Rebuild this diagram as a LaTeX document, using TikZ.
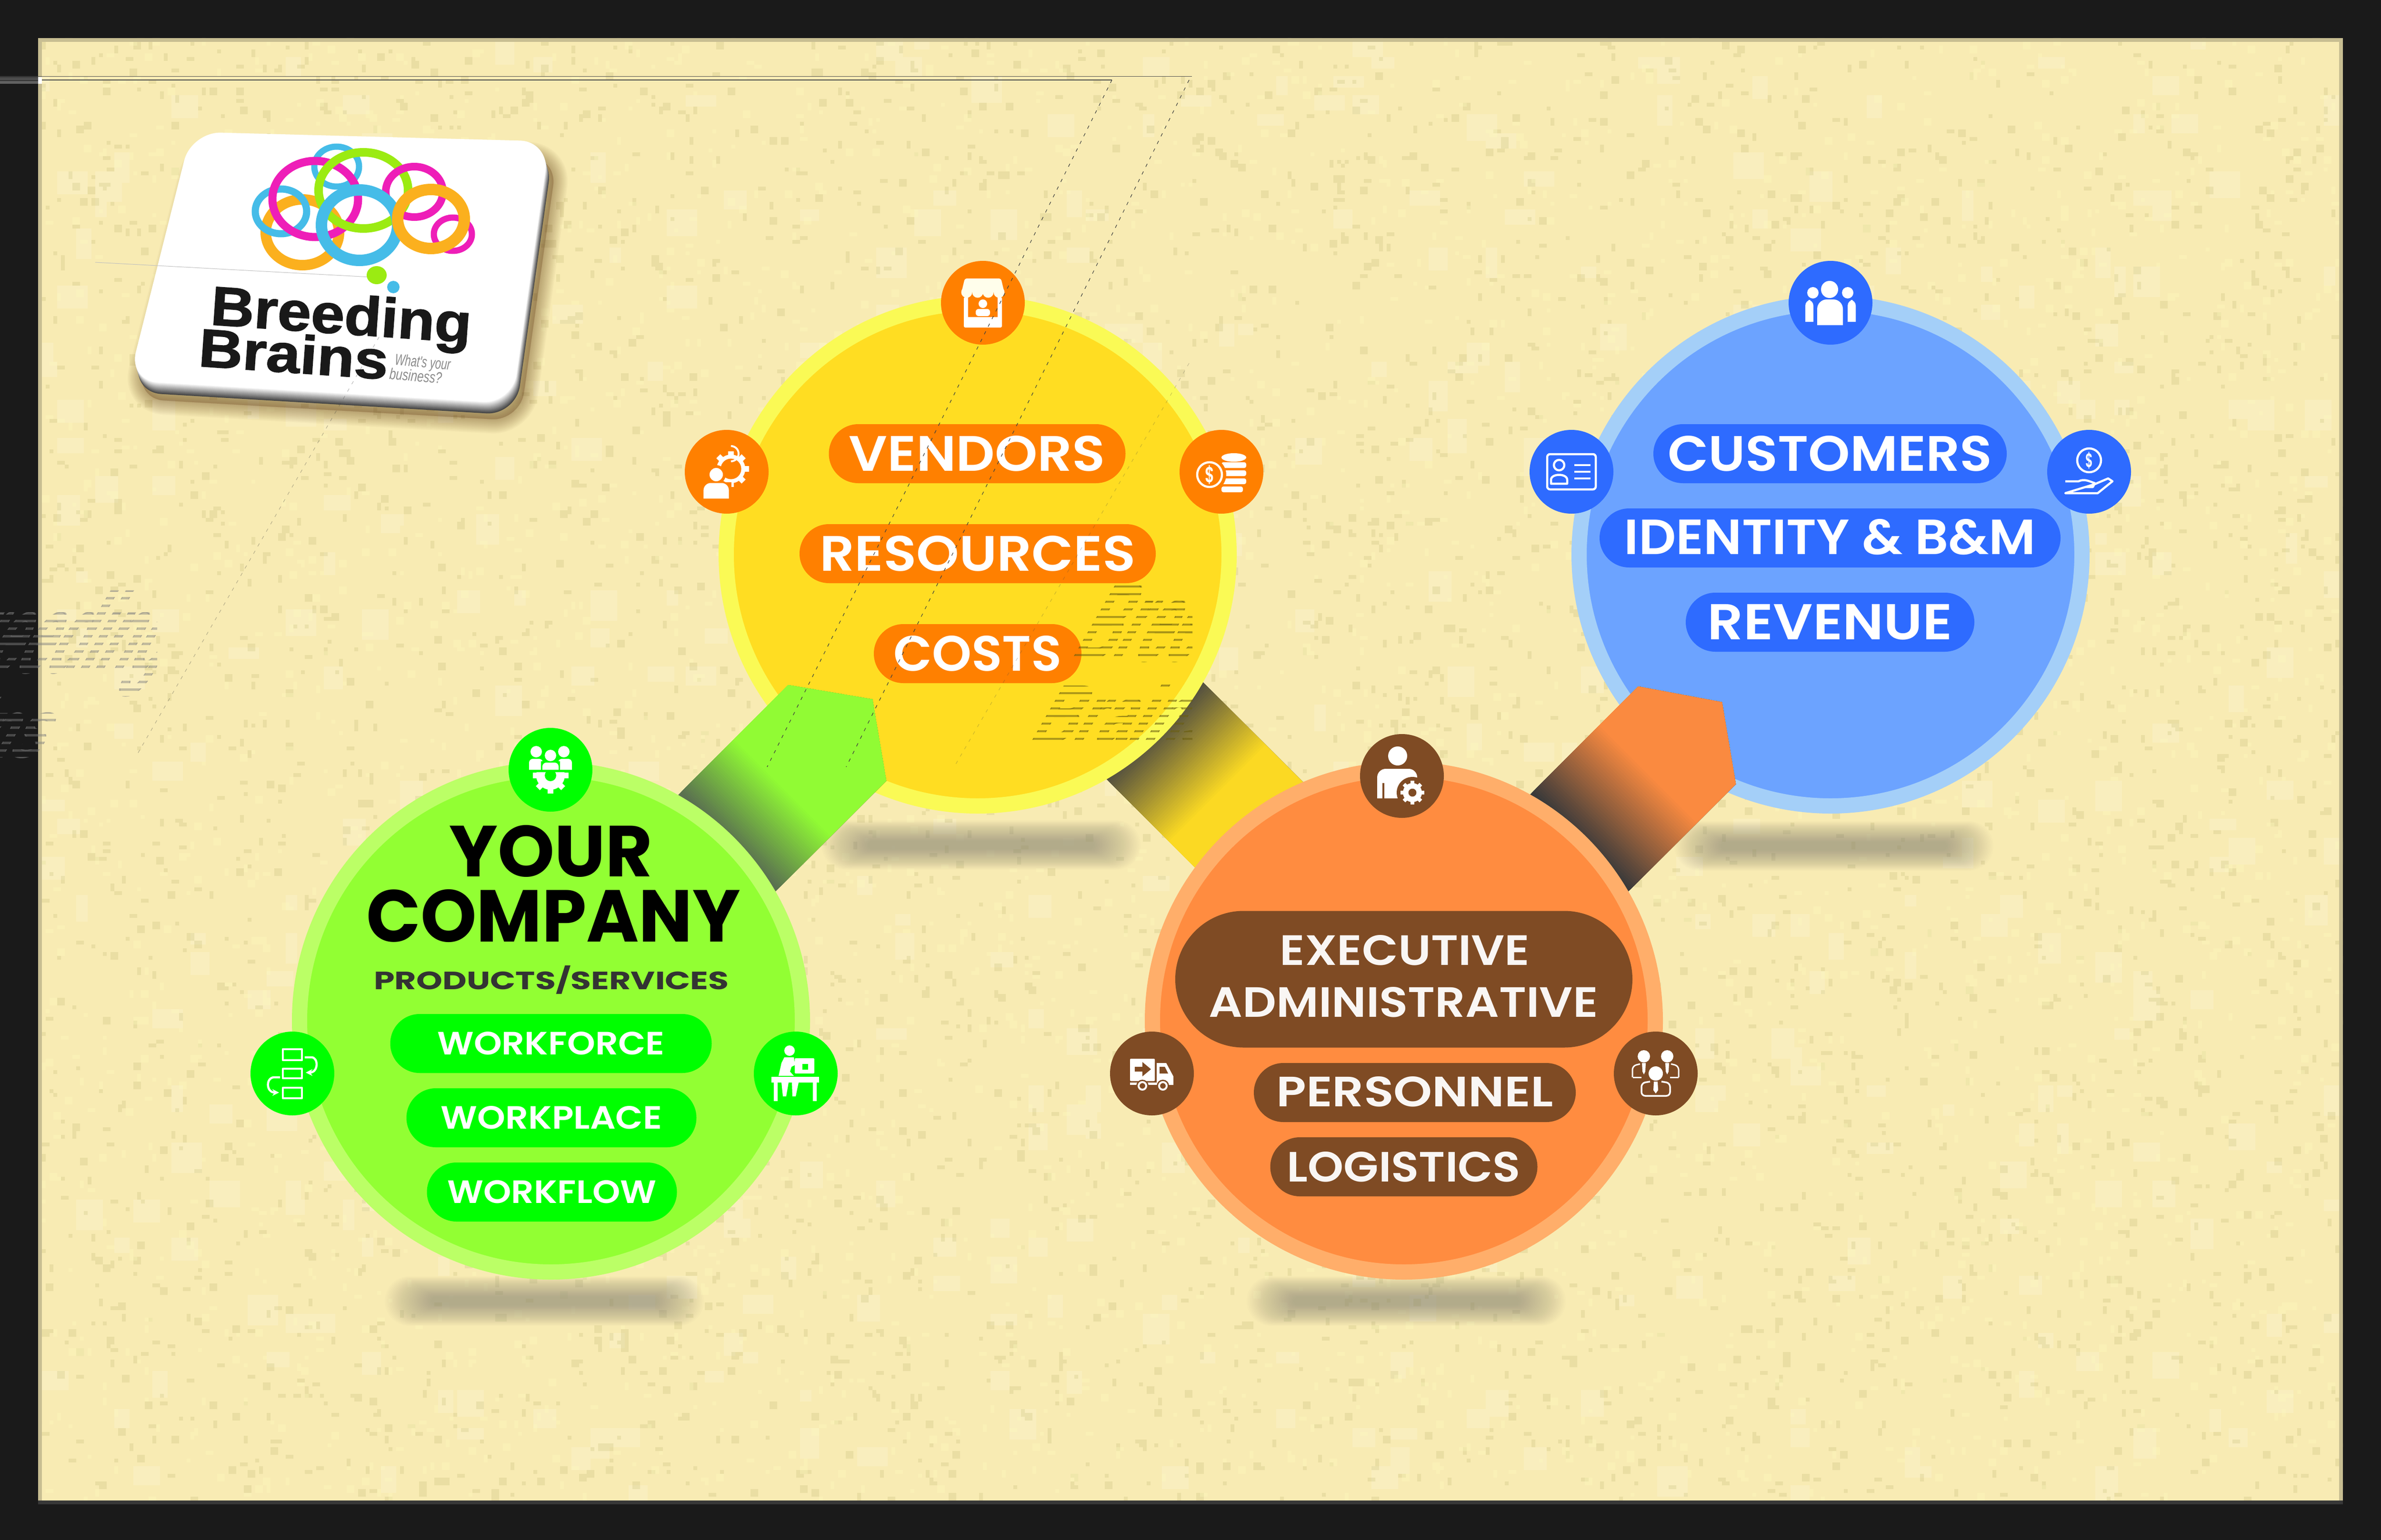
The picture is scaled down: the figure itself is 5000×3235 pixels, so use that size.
\documentclass[tikz,border=0pt]{standalone}
\usepackage{fontspec}
\usepackage{graphicx}
\usetikzlibrary{shapes.misc,arrows.meta,calc}
\newfontfamily\popf{Poppins}
\newfontfamily\pops[BoldFont={Poppins SemiBold}]{Poppins}
\newfontfamily\helf{Liberation Sans}[BoldFeatures={FakeBold=1.5}]
\definecolor{frameC}{HTML}{1A1A1A}
\definecolor{paperC}{HTML}{F8EBB3}
\definecolor{edgeC}{HTML}{C8BE92}
\definecolor{shadC}{HTML}{8F8B7A}
\definecolor{yIn}{HTML}{FFDD22}\definecolor{yRing}{HTML}{FAFA55}\definecolor{yPill}{HTML}{FF8000}
\definecolor{bIn}{HTML}{6CA3FF}\definecolor{bRing}{HTML}{A4CFF8}\definecolor{bPill}{HTML}{2E6BFF}
\definecolor{gIn}{HTML}{92FF33}\definecolor{gRing}{HTML}{BBFF66}\definecolor{gPill}{HTML}{00FF00}
\definecolor{oIn}{HTML}{FF8C40}\definecolor{oRing}{HTML}{FFAE6A}\definecolor{oPill}{HTML}{7F4B24}
\definecolor{gDark}{HTML}{5A7050}\definecolor{yDark}{HTML}{54503F}\definecolor{oDark}{HTML}{3A3A3A}
\definecolor{cyanL}{HTML}{45BCE8}\definecolor{magL}{HTML}{EE1EB8}\definecolor{limeL}{HTML}{9BEB12}\definecolor{ambL}{HTML}{FBB01E}
\definecolor{ghostC}{HTML}{6B5F10}
\newcommand{\btxt}[3]{\resizebox{#1pt}{#2pt}{\popf\bfseries #3}}
\newcommand{\ftxt}[3]{\resizebox{#1pt}{#2pt}{\pops\bfseries #3}}
\newcommand{\htxt}[3]{\resizebox{#1pt}{#2pt}{\helf\bfseries #3}}
\newcommand{\hitxt}[3]{\resizebox{#1pt}{#2pt}{\helf\itshape #3}}
\newcommand{\bandfill}[5]{%
 \begin{scope}[shift={#1},rotate=#2]
  \fill[#4] (-500,-500) rectangle (1000,500);
  \foreach \kk in {0,...,39}{%
   \pgfmathsetmacro\pp{100-\kk*2.5}%
   \pgfmathsetmacro\xx{#3*\kk/40}%
   \fill[color={#4!\pp!#5}] (\xx,-500) rectangle (1000,500);}
 \end{scope}}
\newcommand{\softshadow}[2]{%
 \foreach \kk in {0,...,29}{%
   \pgfmathsetmacro\hw{335-\kk*3.4}%
   \pgfmathsetmacro\hh{52-\kk*1.5}%
   \fill[shadC,opacity=.026,rounded corners=\hh pt] (#1-\hw,#2-\hh) rectangle (#1+\hw,#2+\hh);}}
% filled person: centre of head, head radius
\newcommand{\pers}[3]{%
 \begin{scope}[shift={(#1,#2)},x=#3pt,y=-#3pt]
  \fill[white] (0,0) circle[radius=1];
  \fill[white] (-1.9,3.6) [rounded corners=#3*1.1pt] -- (-1.9,1.25) -- (1.9,1.25) [sharp corners] -- (1.9,3.6) -- cycle;
 \end{scope}}
% gear: x, y, radius, hole colour, hole fraction
\newcommand{\gearf}[5]{%
 \begin{scope}[shift={(#1,#2)}]
  \fill[white] (0,0) circle[radius=#3];
  \foreach \aa in {0,45,...,315}{\fill[white,rotate=\aa] (-#3*.2,-#3*1.25) rectangle (#3*.2,0);}
  \fill[#4] (0,0) circle[radius=#3*#5];
 \end{scope}}
\tikzset{
 disc/.style={circle,inner sep=0,outer sep=0,minimum size=1056pt,line width=32pt},
 badge/.style={circle,inner sep=0,outer sep=0,minimum size=176pt},
 pill/.style={rounded rectangle,inner sep=0,outer sep=0,minimum height=#1},
 pill/.default=124pt,
 lbl/.style={inner sep=0,outer sep=0},
 il/.style={draw=white,line width=4.5pt,line join=round},
 dots/.style={draw=black!75,line width=1.2pt,dash pattern=on 7pt off 10.9pt}
}
\begin{document}
\begin{tikzpicture}[x=1pt,y=-1pt]
\useasboundingbox (0,0) rectangle (5000,3235);
\fill[frameC] (0,0) rectangle (5000,3235);
% paper
\begin{scope}
\clip (80,80) rectangle (4920,3152);
\fill[paperC] (80,80) rectangle (4920,3152);
\pgfmathsetseed{4711}
\fill[color=white!60!paperC,opacity=.25] \foreach \i in {1,...,500}{
  ({floor(rnd*121)*40+80},{floor(rnd*77)*40+80}) rectangle ++({24+8*floor(rnd*6)},{24+8*floor(rnd*6)})};
\fill[color=black!10!paperC!80!olive,opacity=.3] \foreach \i in {1,...,5000}{
  ({floor(rnd*605)*8+80},{floor(rnd*384)*8+80}) rectangle ++({8+8*floor(rnd*2)},{8+8*floor(rnd*2)})};
\fill[color=white!75!yellow,opacity=.3] \foreach \i in {1,...,3500}{
  ({floor(rnd*605)*8+80},{floor(rnd*384)*8+80}) rectangle ++({8+8*floor(rnd*2)},{8+8*floor(rnd*2)})};
\end{scope}
\fill[edgeC] (80,80) rectangle (4920,88);
\fill[edgeC] (80,80) rectangle (88,3152);
\fill[edgeC] (4912,80) rectangle (4920,3152);
\fill[black!78] (80,3152) rectangle (4920,3160);
% logo tile
\foreach \kk in {1,...,12}{%
  \pgfmathsetmacro\lw{\kk*5}%
  \draw[color=black!70!orange,opacity=.03,line width=\lw pt,line join=round,rounded corners=60pt,fill=black!70!orange,fill opacity=.018]
   (420,310) -- (1170,330) -- (1092,884) -- (285,838) -- cycle;}
\foreach \kk in {0,...,12}{%
  \pgfmathsetmacro\dx{7-\kk*7/12}%
  \pgfmathsetmacro\dy{24-\kk*2}%
  \pgfmathsetmacro\mx{\kk*100/12}%
  \fill[color={white!\mx!black!72},rounded corners=62pt,shift={(\dx,\dy)}]
   (402,277) -- (1154,297) -- (1076,848) -- (270,800) -- cycle;}
\draw[black!25,line width=1pt] (200,551) -- (796,583);
\foreach \cx/\cy/\rx/\ry/\col/\sw in {707/350/47/42/cyanL/13, 951/492/40/35/magL/13, 635/488/77/69/ambL/22, 590/444/54/47/cyanL/15, 662/418/90/80/magL/17, 763/400/94/80/limeL/18, 870/403/60/53/magL/16, 755/473/80/74/cyanL/24, 905/460/70/62/ambL/24}{%
  \draw[color=\col,line width=\sw pt] (\cx,\cy) ellipse [x radius=\rx,y radius=\ry];}
\fill[limeL] (791,578) ellipse [x radius=21,y radius=19];
\fill[cyanL] (826,603) circle[radius=13];
\node[lbl,anchor=base,rotate=-4,text=black!90] (lg1) at (714,701) {\htxt{548}{84}{Breeding}};
\node[lbl,anchor=base,rotate=-4,text=black!90] (lg2) at (614,783) {\htxt{398}{82}{Brains}};
\node[lbl,anchor=base,rotate=-5,text=black!45] (lg3) at (887,772) {\hitxt{117}{24}{What's your}};
\node[lbl,anchor=base,rotate=-5,text=black!45] (lg4) at (872,801) {\hitxt{110}{24}{business?}};
% shadows
\softshadow{2060}{1775}
\softshadow{3851}{1777}
\softshadow{1143}{2733}
\softshadow{2953}{2733}
% yellow connector (under both discs)
\begin{scope}
 \clip (2327,1234) -- (2927,1834) -- (2724,2037) -- (2124,1437) -- cycle;
 \bandfill{(2425,1535)}{-45}{190}{yDark}{yIn}
\end{scope}
\node[disc,draw=yRing,fill=yIn] (ydisc) at (2053,1165) {};
\node[disc,draw=bRing,fill=bIn] (bdisc) at (3844,1165) {};
% green connector
\begin{scope}
 \clip (1655,1439) -- (1832,1469) -- (1861,1640) -- (1361,2140) -- (1155,1939) -- cycle;
 \bandfill{(1532,1769)}{45}{163}{gDark}{gIn}
\end{scope}
% orange connector
\begin{scope}
 \clip (3440,1442) -- (3616,1475) -- (3645,1647) -- (3145,2147) -- (2940,1942) -- cycle;
 \bandfill{(3318,1767)}{45}{205}{oDark}{oIn}
\end{scope}
\node[disc,draw=gRing,fill=gIn] (gdisc) at (1157,2144) {};
\node[disc,draw=oRing,fill=oIn] (odisc) at (2948,2144) {};
% badges
\foreach \nm/\cx/\cy/\col in {yt/2064/636/yPill,yl/1526/991/yPill,yr/2565/991/yPill,bt/3844/636/bPill,bl/3300/991/bPill,br/4387/991/bPill,gt/1156/1617/gPill,gl/614/2255/gPill,gr/1671/2255/gPill,ot/2944/1630/oPill,ol/2419/2255/oPill,orr/3477/2255/oPill}{%
  \node[badge,fill=\col] (\nm) at (\cx,\cy) {};}
% pills yellow
\node[pill,fill=yPill,minimum width=623pt,text=white] (vend) at (2052,953) {\raisebox{-2pt}{\ftxt{538}{74}{VENDORS}}};
\node[pill,fill=yPill,minimum width=748pt,text=white] (reso) at (2053,1163) {\raisebox{-2pt}{\ftxt{663}{74}{RESOURCES}}};
\node[pill,fill=yPill,minimum width=436pt,text=white] (cost) at (2053,1373) {\raisebox{-2pt}{\ftxt{353}{74}{COSTS}}};
% pills blue
\node[pill,fill=bPill,minimum width=742pt,text=white] (cust) at (3843,953) {\raisebox{-2pt}{\ftxt{681}{74}{CUSTOMERS}}};
\node[pill,fill=bPill,minimum width=968pt,text=white] (iden) at (3843,1130) {\raisebox{6pt}{\ftxt{864}{74}{IDENTITY \& B\&M}}};
\node[pill,fill=bPill,minimum width=606pt,text=white] (reve) at (3843,1307) {\raisebox{-2pt}{\ftxt{514}{74}{REVENUE}}};
% green texts
\node[lbl,text=black] (your) at (1157,1788) {\btxt{427}{108}{YOUR}};
\node[lbl,text=black] (comp) at (1162,1924) {\btxt{786}{110}{COMPANY}};
\node[lbl,text=black!80] (prod) at (1158,2058) {\btxt{745}{50}{PRODUCTS/SERVICES}};
\node[pill,fill=gPill,minimum width=675pt,text=white] (wfor) at (1157,2192) {\ftxt{477}{48}{WORKFORCE}};
\node[pill,fill=gPill,minimum width=609pt,text=white] (wpla) at (1158,2348) {\ftxt{465}{48}{WORKPLACE}};
\node[pill,fill=gPill,minimum width=525pt,text=white] (wflo) at (1159,2504) {\ftxt{439}{48}{WORKFLOW}};
% orange texts
\node[pill=287pt,fill=oPill,minimum width=960pt] (exec) at (2948,2057) {};
\node[lbl,text=white!95!oPill] (ex1) at (2950,1996) {\ftxt{525}{63}{EXECUTIVE}};
\node[lbl,text=white!95!oPill] (ex2) at (2947,2105) {\ftxt{817}{63}{ADMINISTRATIVE}};
\node[pill,fill=oPill,minimum width=676pt,text=white!95!oPill] (pers) at (2971,2295) {\raisebox{4pt}{\ftxt{581}{63}{PERSONNEL}}};
\node[pill,fill=oPill,minimum width=561pt,text=white!95!oPill] (logi) at (2948,2451) {\ftxt{490}{63}{LOGISTICS}};
% icon: store
\begin{scope}[shift={(yt.center)}]
 \fill[white,rounded corners=3pt] (-40,-12) rectangle (40,52);
 \fill[yPill] (-31,-20) rectangle (31,30);
 \foreach \cx in {-34,-11,11,34}{\fill[white!92!yellow] (\cx,-22) circle[radius=11.5];}
 \fill[white!92!yellow,rounded corners=4pt] (-38,-51) -- (38,-51) -- (45,-22) -- (-45,-22) -- cycle;
 \fill[white] (0,2) circle[radius=9];
 \fill[white,rounded corners=6pt] (-15,28) -- (-15,13) -- (15,13) -- (15,28) -- cycle;
\end{scope}
% icon: user + gear
\begin{scope}[shift={(yl.center)}]
 \gearf{9}{-6}{30}{yPill}{.72}
 \draw[white,line width=4pt] (9,-22) arc[start angle=90,end angle=-90,radius=16];
 \fill[yPill] (-22,6) circle[radius=20];
 \fill[yPill] (-50,22) rectangle (10,50);
 \pers{-22}{6}{14}
\end{scope}
% icon: coins
\begin{scope}[shift={(yr.center)}]
 \foreach \yy in {-20,-3,14}{\fill[white,rounded corners=4pt] (0,\yy) rectangle (52,\yy+12);}
 \fill[white,rounded corners=4pt] (0,31) rectangle (45,43);
 \fill[white] (26,-30) ellipse[x radius=26,y radius=9];
 \fill[yPill] (-25,6) circle[radius=35];
 \draw[il] (-25,6) circle[radius=26];
 \node[lbl,text=white] (coin1) at (-25,6) {\ftxt{20}{36}{\$}};
\end{scope}
% icon: group
\begin{scope}[shift={(bt.center)}]
 \fill[white] (-2,-28) circle[radius=18];
 \fill[white] (-37,-21) circle[radius=12];
 \fill[white] (36,-21) circle[radius=12];
 \fill[white] (-28,47) [rounded corners=20pt] -- (-28,-7) -- (26,-7) [sharp corners] -- (26,47) -- cycle;
 \fill[white] (-53,40) [rounded corners=12pt] -- (-53,-6) -- (-36,-6) [sharp corners] -- (-36,40) -- cycle;
 \fill[white] (36,40) [rounded corners=12pt] -- (36,-6) -- (53,-6) [sharp corners] -- (53,40) -- cycle;
\end{scope}
% icon: id card
\begin{scope}[shift={(bl.center)}]
 \draw[il,rounded corners=6pt] (-51,-37) rectangle (51,37);
 \draw[il] (-26,-14) circle[radius=11];
 \draw[il] (-43,25) -- (-43,17) .. controls (-43,3) and (-9,3) .. (-9,17) -- (-9,25) -- cycle;
 \draw[il] (6,-14) -- (40,-14) (6,0) -- (40,0) (6,14) -- (40,14);
\end{scope}
% icon: hand and coin
\begin{scope}[shift={(br.center)}]
 \draw[il] (0,-24) circle[radius=25];
 \node[lbl,text=white] (coin2) at (0,-24) {\ftxt{16}{32}{\$}};
 \draw[il] (-50,20) -- (-22,20) .. controls (-10,14) and (0,20) .. (12,24) -- (8,32) -- (-8,32) (12,26) -- (40,14) -- (49,20) -- (18,45) -- (-50,45) -- cycle;
\end{scope}
% icon: team + gear
\begin{scope}[shift={(gt.center)}]
 \gearf{0}{12}{30}{gPill}{.4}
 \fill[gPill] (-55,-25) rectangle (55,5);
 \fill[white] (-30,-38) circle[radius=12];
 \fill[white] (28,-38) circle[radius=12];
 \fill[white] (0,-30) circle[radius=12];
 \fill[white] (-45,0) [rounded corners=8pt] -- (-45,-23) -- (-16,-23) [sharp corners] -- (-16,0) -- cycle;
 \fill[white] (16,0) [rounded corners=8pt] -- (16,-23) -- (45,-23) [sharp corners] -- (45,0) -- cycle;
 \fill[gPill] (-20,4) rectangle (20,-18);
 \fill[white] (-17,0) [rounded corners=8pt] -- (-17,-15) -- (17,-15) [sharp corners] -- (17,0) -- cycle;
\end{scope}
% icon: workflow
\begin{scope}[shift={(gl.center)}]
 \draw[il] (-20,-51) rectangle (20,-28) (-20,-10) rectangle (20,10) (-20,30) rectangle (20,52);
 \draw[il,-{Stealth[length=14pt,width=14pt]}] (26,-34) -- (40,-34) .. controls (55,-34) and (55,-2) .. (28,-2);
 \draw[il,-{Stealth[length=14pt,width=14pt]}] (-26,8) -- (-38,8) .. controls (-56,8) and (-56,40) .. (-28,40);
\end{scope}
% icon: desk
\begin{scope}[shift={(gr.center)}]
 \fill[white] (-13,-48) circle[radius=11];
 \fill[white] (-36,5) -- (-30,-22) -- (-24,-34) -- (-4,-34) -- (-1,-18) -- (-9,-14) -- (-12,-4) -- (-4,5) -- cycle;
 \fill[white,rounded corners=2pt] (-2,-32) rectangle (39,0);
 \fill[gPill] (14,-20) rectangle (26,-8);
 \fill[white] (-51,7) rectangle (49,19);
 \fill[white] (-46,19) rectangle (-38,58);
 \fill[white] (36,19) rectangle (44,58);
 \fill[white] (-30,19) -- (-15,19) -- (-20,48) -- (-27,48) -- cycle;
 \fill[white] (-8,19) -- (6,19) -- (0,48) -- (-7,48) -- cycle;
\end{scope}
% icon: manager + gear
\begin{scope}[shift={(ot.center)}]
 \fill[white] (-9,-42) circle[radius=20];
 \fill[white] (-52,47) [rounded corners=18pt] -- (-52,-15) -- (32,-15) [sharp corners] -- (32,47) -- cycle;
 \fill[oPill] (-41,15) rectangle (-37,50);
 \fill[oPill] (22,35) circle[radius=33];
 \gearf{22}{35}{20}{oPill}{.42}
\end{scope}
% icon: truck
\begin{scope}[shift={(ol.center)}]
 \fill[white,rounded corners=2pt] (-46,-31) rectangle (6,16);
 \fill[oPill] (-36,-14) rectangle (-18,-4);
 \fill[oPill] (-20,-24) -- (-2,-9) -- (-20,6) -- cycle;
 \fill[white] (10,-22) -- (30,-22) -- (45,6) -- (45,24) -- (10,24) -- cycle;
 \fill[oPill] (16,-14) -- (27,-14) -- (34,0) -- (16,0) -- cycle;
 \fill[white] (-46,19) rectangle (10,24);
 \foreach \cx in {-20,23}{\fill[oPill] (\cx,26) circle[radius=13];\draw[white,line width=4pt] (\cx,26) circle[radius=8];}
\end{scope}
% icon: three with ties
\begin{scope}[shift={(orr.center)}]
 \foreach \cx/\sg in {-25/-1,24/1}{%
  \fill[white] (\cx,-36) circle[radius=13];
  \fill[white] (\cx-4,-22) -- (\cx+4,-22) -- (\cx+3,-4) -- (\cx,2) -- (\cx-3,-4) -- cycle;
  \draw[white,line width=3pt,rounded corners=8pt] (\cx+\sg*24,8) -- (\cx+\sg*24,-16) -- (\cx+\sg*8,-20);}
 \draw[white,line width=3pt] (-48,8) -- (-30,8) (48,8) -- (30,8);
 \fill[oPill] (0,0) circle[radius=19];
 \fill[white] (0,0) circle[radius=15];
 \draw[white,line width=3.5pt,rounded corners=8pt] (-12,17) -- (-30,20) -- (-30,47) -- (30,47) -- (30,20) -- (12,17);
 \fill[white] (-4,17) -- (4,17) -- (5,35) -- (0,42) -- (-5,35) -- cycle;
\end{scope}
% stray construction lines
\draw[black!70,line width=1.2pt] (0,160.5) -- (2503,160.5);
\draw[black!70,line width=1.2pt] (0,168) -- (2335,168);
\fill[black!70] (0,162) rectangle (80,168);
\fill[black!62] (0,170) rectangle (80,176);
\fill[white] (80,162) rectangle (88,176);
\draw[dots] (2335,168) -- (1611,1611);
\draw[dots] (2497,168) -- (1777,1611);
\draw[dots,draw opacity=.25] (2497,763) -- (2006,1607);
\draw[dots,draw opacity=.35] (796,708) -- (285,1590);
% stray ghost text
\begin{scope}
 \clip \foreach \yy in {1214,1230,...,1582}{(2100,\yy) rectangle (2504,\yy+4)};
 \node[lbl,anchor=base west,xslant=.58,transform shape,text=ghostC,opacity=.55] (gh1) at (2243,1387) {\htxt{500}{170}{Breeding}};
 \node[lbl,anchor=base west,xslant=.58,transform shape,text=ghostC,opacity=.55] (gh2) at (2157,1560) {\htxt{380}{125}{Brains}};
\end{scope}
\begin{scope}
 \clip \foreach \yy in {1238,1254,...,1590}{(0,\yy) rectangle (330,\yy+5)};
 \node[lbl,anchor=base west,xslant=.58,transform shape,text=black!50,opacity=.45] (gh3) at (-170,1412) {\htxt{500}{170}{Breeding}};
 \node[lbl,anchor=base west,xslant=.58,transform shape,text=black!50,opacity=.45] (gh4) at (-300,1590) {\htxt{380}{125}{Brains}};
\end{scope}
\end{tikzpicture}
\end{document}
